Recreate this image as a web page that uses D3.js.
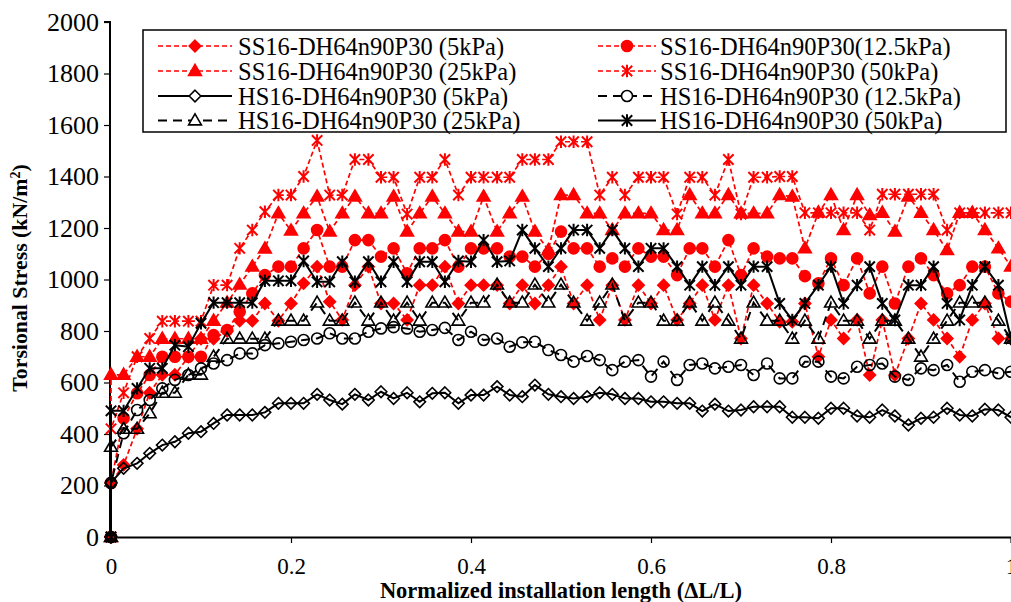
<!DOCTYPE html>
<html>
<head>
<meta charset="utf-8">
<script src="https://cdn.jsdelivr.net/npm/d3@7"></script>
<style>
  body { margin: 0; background: #fff; }
  svg { display: block; }
  text { font-family: "Liberation Serif", "Times New Roman", serif; fill: #000; }
</style>
</head>
<body>
<svg id="chart" width="1011" height="602"></svg>
<script>
// Normalized installation length (ΔL/L) for each reading; the first two rows are the start-up at ΔL/L = 0
const lengthRatio = [0, 0, 0.014, 0.029, 0.043, 0.057, 0.071, 0.086, 0.1, 0.114, 0.129, 0.143, 0.157, 0.171, 0.186,
  0.2, 0.214, 0.229, 0.243, 0.257, 0.271, 0.286, 0.3, 0.314, 0.329, 0.343, 0.357, 0.371, 0.386,
  0.4, 0.414, 0.429, 0.443, 0.457, 0.471, 0.486, 0.5, 0.514, 0.529, 0.543, 0.557, 0.571, 0.586,
  0.6, 0.614, 0.629, 0.643, 0.657, 0.671, 0.686, 0.7, 0.714, 0.729, 0.743, 0.757, 0.771, 0.786,
  0.8, 0.814, 0.829, 0.843, 0.857, 0.871, 0.886, 0.9, 0.914, 0.929, 0.943, 0.957, 0.971, 0.986, 1];

// Torsional stress (kN/m²), smooth-shaft piles
const ss5kPa = [0, 210, 280, 420, 560, 630, 630, 700, 770, 770, 800, 840, 840, 907, 840, 907,
  985, 1050, 914, 843, 978, 1050, 907, 907, 843, 978, 978, 1050, 907, 978, 978,
  978, 907, 978, 907, 978, 1050, 907, 978, 843, 978, 843, 978, 907, 978, 843,
  907, 978, 843, 978, 771, 978, 907, 836, 836, 907, 700, 843, 771, 843, 629,
  843, 629, 771, 907, 843, 771, 700, 843, 907, 771, 770];
const ss12kPa = [0, 210, 461, 558, 629, 700, 700, 700, 700, 784, 804, 875, 946, 1017, 1050, 1050,
  1121, 1192, 1050, 1050, 1153, 1153, 1089, 1121, 1024, 1121, 1121, 1153, 1050, 1121, 1121,
  1121, 1089, 1089, 1050, 1100, 1186, 1121, 1121, 1050, 1082, 1050, 1121, 1089, 1089, 1017,
  1121, 1121, 1050, 1153, 1017, 1121, 1089, 1082, 1082, 1013, 985, 1082, 978, 1082, 946,
  1050, 907, 1050, 1082, 1017, 946, 978, 1050, 1050, 946, 914];
const ss25kPa = [0, 630, 630, 700, 700, 770, 770, 770, 770, 840, 910, 980, 1050, 1120, 1257, 1190,
  1257, 1322, 1186, 1257, 1322, 1257, 1257, 1322, 1186, 1257, 1322, 1257, 1186, 1186, 1322,
  1186, 1257, 1322, 1186, 1114, 1328, 1328, 1257, 1257, 1192, 1257, 1257, 1257, 1192, 1192,
  1328, 1257, 1257, 1328, 1257, 1257, 1257, 1328, 1322, 1121, 1260, 1328, 1192, 1328, 1250,
  1259, 1186, 1322, 1259, 1192, 1114, 1259, 1259, 1192, 1121, 1050];
const ss50kPa = [0, 420, 560, 700, 771, 838, 838, 838, 838, 978, 978, 1121, 1192, 1263, 1328, 1328,
  1400, 1540, 1328, 1328, 1466, 1466, 1397, 1397, 1254, 1397, 1397, 1466, 1328, 1397, 1397,
  1397, 1397, 1466, 1466, 1466, 1535, 1535, 1535, 1328, 1397, 1328, 1397, 1397, 1397, 1254,
  1397, 1397, 1328, 1466, 1254, 1397, 1397, 1400, 1400, 1259, 1259, 1259, 1259, 1259, 1192,
  1331, 1331, 1331, 1331, 1331, 1192, 1259, 1259, 1259, 1259, 1259];

// Torsional stress (kN/m²), helical-shaft piles
const hs5kPa = [0, 210, 267, 286, 325, 357, 370, 403, 409, 441, 474, 474, 474, 484, 519, 519,
  519, 554, 532, 516, 554, 532, 564, 538, 560, 525, 558, 560, 519, 551, 551,
  584, 551, 545, 590, 554, 545, 538, 545, 560, 554, 538, 538, 525, 525, 519,
  519, 489, 516, 489, 493, 506, 506, 506, 465, 465, 461, 500, 500, 470, 465,
  493, 470, 435, 461, 465, 500, 474, 470, 496, 493, 465];
const hs12kPa = [0, 210, 403, 493, 532, 577, 610, 629, 655, 674, 687, 713, 713, 745, 752, 758,
  765, 771, 791, 771, 771, 797, 810, 815, 810, 797, 804, 812, 765, 797, 765,
  771, 739, 756, 758, 726, 707, 681, 703, 687, 648, 681, 687, 623, 681, 610,
  668, 674, 655, 661, 668, 629, 674, 616, 616, 681, 681, 623, 616, 661, 668,
  674, 623, 610, 655, 648, 668, 603, 642, 648, 636, 642];
const hs25kPa = [0, 350, 420, 420, 480, 560, 560, 630, 630, 700, 770, 770, 770, 770, 840, 840,
  840, 910, 840, 840, 910, 840, 910, 840, 910, 840, 910, 910, 840, 910, 910,
  980, 910, 910, 980, 910, 980, 910, 840, 910, 980, 840, 910, 910, 840, 840,
  910, 840, 910, 840, 770, 910, 840, 840, 770, 840, 770, 910, 840, 840, 770,
  840, 840, 770, 700, 770, 840, 910, 910, 910, 840, 770];
const hs50kPa = [0, 490, 490, 577, 655, 655, 745, 739, 830, 910, 910, 910, 910, 995, 995, 995,
  1072, 991, 991, 1069, 991, 1069, 991, 1069, 991, 1069, 1069, 991, 1072, 1069, 1153,
  1069, 1072, 1192, 1121, 1050, 1121, 1192, 1192, 1121, 1192, 1121, 1050, 1121, 1121, 1050,
  978, 1050, 978, 1050, 978, 1050, 1050, 907, 843, 907, 978, 1050, 907, 978, 1050,
  907, 843, 978, 978, 1050, 907, 843, 978, 1050, 978, 770];

const yTickValues = [0, 200, 400, 600, 800, 1000, 1200, 1400, 1600, 1800, 2000];
const xTickValues = [0, 0.2, 0.4, 0.6, 0.8, 1];

const seriesNames = [
  "SS16-DH64n90P30 (5kPa)", "SS16-DH64n90P30(12.5kPa)",
  "SS16-DH64n90P30 (25kPa)", "SS16-DH64n90P30 (50kPa)",
  "HS16-DH64n90P30 (5kPa)", "HS16-DH64n90P30 (12.5kPa)",
  "HS16-DH64n90P30 (25kPa)", "HS16-DH64n90P30 (50kPa)"
];
const seriesValues = [ss5kPa, ss12kPa, ss25kPa, ss50kPa, hs5kPa, hs12kPa, hs25kPa, hs50kPa];

const RED = "#ff0000", BLACK = "#000000";
const styles = [
  { color: RED, dash: "5,3", width: 1.7, marker: "diamond", filled: true },
  { color: RED, dash: "5,3", width: 1.7, marker: "circle", filled: true },
  { color: RED, dash: "5,3", width: 1.7, marker: "triangle", filled: true },
  { color: RED, dash: "5,3", width: 1.7, marker: "star", filled: false },
  { color: BLACK, dash: null, width: 2, marker: "diamond", filled: false },
  { color: BLACK, dash: "9,6", width: 2, marker: "circle", filled: false },
  { color: BLACK, dash: "9,6", width: 2, marker: "triangle", filled: false },
  { color: BLACK, dash: null, width: 2, marker: "star", filled: false }
];

const svg = d3.select("#chart");
const margin = { left: 111, right: 1011, top: 22, bottom: 537 };

const x = d3.scaleLinear().domain([0, 1]).range([margin.left, margin.right]);
const y = d3.scaleLinear().domain([0, 2000]).range([margin.bottom, margin.top]);

// Marker outlines centred on (0,0)
function markerPath(kind) {
  if (kind === "diamond") {
    const s = 5.8;
    return `M0,${-s}L${s},0L0,${s}L${-s},0Z`;
  }
  if (kind === "circle") {
    const r = 5.5;
    return `M${r},0A${r},${r} 0 1,1 ${-r},0A${r},${r} 0 1,1 ${r},0Z`;
  }
  if (kind === "triangle") {
    const w = 6.4, h = 11;
    return `M0,${-h * 0.6}L${w},${h * 0.4}L${-w},${h * 0.4}Z`;
  }
  // asterisk: X plus vertical bar
  const s = 5.2;
  return `M${-s},${-s}L${s},${s}M${-s},${s}L${s},${-s}M0,${-s - 1}L0,${s + 1}`;
}

// Axes
const yAxis = d3.axisLeft(y).tickValues(yTickValues).tickSize(6).tickPadding(5).tickFormat(d3.format("d"));
const xAxis = d3.axisBottom(x).tickValues(xTickValues).tickSize(6).tickPadding(15).tickFormat(d => d === 0 ? "0" : d3.format("")(d));

const gy = svg.append("g").attr("transform", `translate(${margin.left - 1},0)`).call(yAxis);
const gx = svg.append("g").attr("transform", `translate(0,${margin.bottom})`).call(xAxis);

[gy, gx].forEach(g => {
  g.select(".domain").attr("stroke", "#000").attr("stroke-width", 2);
  g.selectAll(".tick line").attr("stroke", "#000").attr("stroke-width", 1.2);
  g.selectAll(".tick text").attr("font-family", '"Liberation Serif", serif').attr("fill", "#000");
});
gy.selectAll(".tick text").attr("font-size", 26);
gx.selectAll(".tick text").attr("font-size", 23);
gy.select(".domain").attr("d", `M-6,${margin.top}H0V${margin.bottom}H-6`);

// Axis titles
svg.append("text")
  .attr("x", 561).attr("y", 598)
  .attr("text-anchor", "middle")
  .attr("font-weight", "bold").attr("font-size", 22.5)
  .text("Normalized installation length (ΔL/L)");

const yTitle = svg.append("text")
  .attr("transform", "translate(27,278) rotate(-90)")
  .attr("text-anchor", "middle")
  .attr("font-weight", "bold").attr("font-size", 21.8);
yTitle.append("tspan").text("Torsional Stress (kN/m");
yTitle.append("tspan").attr("baseline-shift", "super").attr("font-size", 14).text("2");
yTitle.append("tspan").text(")");

// Series
const line = d3.line().x(d => x(d[0])).y(d => y(d[1]));
const plot = svg.append("g");

seriesValues.forEach((vals, k) => {
  const st = styles[k];
  const pts = vals.map((v, i) => [lengthRatio[i], v]);
  const g = plot.append("g");
  g.append("path")
    .attr("d", line(pts))
    .attr("fill", "none")
    .attr("stroke", st.color)
    .attr("stroke-width", st.width)
    .attr("stroke-dasharray", st.dash);
  g.selectAll("path.m")
    .data(pts)
    .join("path")
    .attr("class", "m")
    .attr("transform", d => `translate(${x(d[0])},${y(d[1])})`)
    .attr("d", markerPath(st.marker))
    .attr("fill", st.filled ? st.color : "none")
    .attr("stroke", st.color)
    .attr("stroke-width", st.marker === "star" ? 2 : 1.6);
});

// Legend
const legend = svg.append("g");
legend.append("rect")
  .attr("x", 143).attr("y", 30).attr("width", 863).attr("height", 102)
  .attr("fill", "#fff").attr("stroke", "#000").attr("stroke-width", 1.5);

const colLine = [[158, 232], [598, 656]];
const colText = [238, 660];
const rowY = [46, 71, 96, 120.5];

seriesNames.forEach((name, k) => {
  const st = styles[k];
  const col = k % 2, row = Math.floor(k / 2);
  const [x0, x1] = colLine[col];
  const cy = rowY[row];
  const g = legend.append("g");
  g.append("line")
    .attr("x1", x0).attr("x2", x1).attr("y1", cy).attr("y2", cy)
    .attr("stroke", st.color).attr("stroke-width", st.width)
    .attr("stroke-dasharray", st.dash);
  g.append("path")
    .attr("transform", `translate(${(x0 + x1) / 2},${cy})`)
    .attr("d", markerPath(st.marker))
    .attr("fill", st.filled ? st.color : "#fff")
    .attr("stroke", st.color)
    .attr("stroke-width", st.marker === "star" ? 2 : 1.6);
  g.append("text")
    .attr("x", colText[col]).attr("y", cy)
    .attr("dy", "0.35em")
    .attr("font-size", 24.5)
    .text(name);
});
</script>
</body>
</html>
